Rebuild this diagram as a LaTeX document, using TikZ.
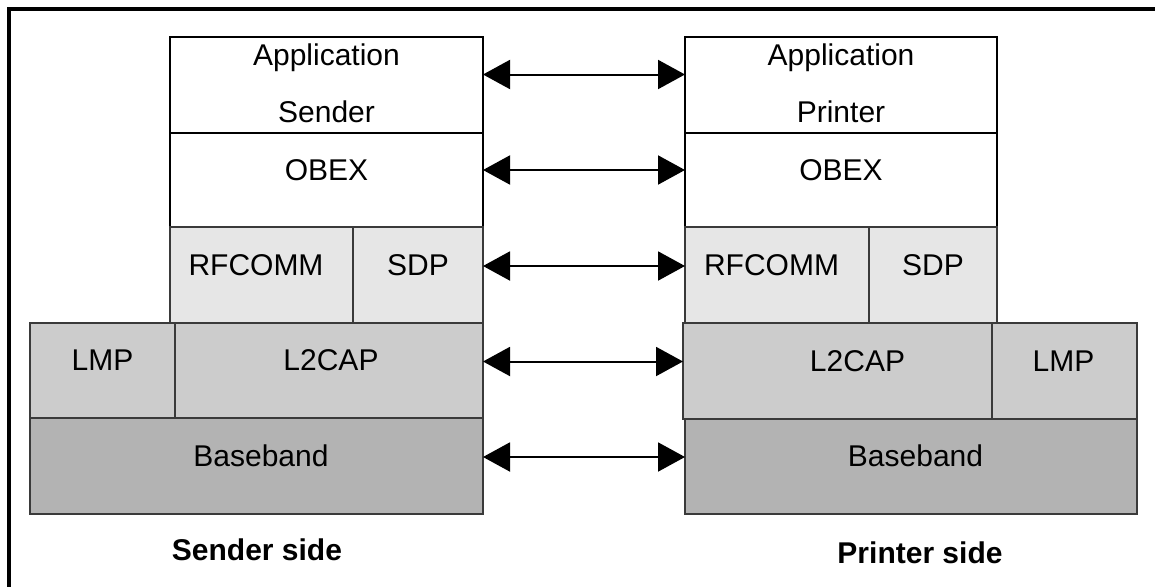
\documentclass[tikz,border=0pt]{standalone}
\usepackage{fontspec}
\setmainfont{Liberation Sans}
\usetikzlibrary{arrows.meta}
\definecolor{edge}{HTML}{3A3A3A}
\definecolor{fillA}{HTML}{E6E6E6}
\definecolor{fillB}{HTML}{CCCCCC}
\definecolor{fillC}{HTML}{B3B3B3}
\newcommand\cellbox[6]{%
  \node[cellshape, #6, minimum width={#3-#1}, minimum height={#4-#2}] (#5) at ({(#1+#3)/2},{(#2+#4)/2}) {};}
\begin{document}
\begin{tikzpicture}[x=1pt,y=-1pt,
  cellshape/.style={rectangle, draw=edge, line width=1.3pt, inner sep=0pt, outer sep=0pt},
  whitecell/.style={draw=black, fill=white},
  lightcell/.style={fill=fillA},
  midcell/.style={fill=fillB},
  darkcell/.style={fill=fillC},
  lbl/.style={anchor=base, inner sep=0pt, font=\fontsize{30}{36}\selectfont},
  sidelbl/.style={anchor=base, inner sep=0pt, font=\fontsize{30}{36}\selectfont\bfseries},
  biarrow/.style={line width=2pt, {Triangle[length=27pt,width=29pt]}-{Triangle[length=27pt,width=29pt]}},
  frame/.style={line width=3.7pt, line join=miter}
]
\useasboundingbox (0,0) rectangle (1155,586);
\fill[white] (0,0) rectangle (1155,586);
\draw[frame] (1160,9.2) -- (9.2,9.2) -- (9.2,590);

% sender side
\cellbox{170}{37}{483}{133}{appL}{whitecell}
\cellbox{170}{133}{483}{227}{obexL}{whitecell}
\cellbox{170}{227}{353}{323}{rfL}{lightcell}
\cellbox{353}{227}{483}{323}{sdpL}{lightcell}
\cellbox{30}{323}{175}{418}{lmpL}{midcell}
\cellbox{175}{323}{483}{418}{ltwoL}{midcell}
\cellbox{30}{418}{483}{514}{bbL}{darkcell}

% printer side
\cellbox{685}{37}{997}{133}{appR}{whitecell}
\cellbox{685}{133}{997}{227}{obexR}{whitecell}
\cellbox{685}{227}{869}{323}{rfR}{lightcell}
\cellbox{869}{227}{997}{323}{sdpR}{lightcell}
\cellbox{683}{323}{992}{419}{ltwoR}{midcell}
\cellbox{992}{323}{1137}{419}{lmpR}{midcell}
\cellbox{685}{419}{1137}{514}{bbR}{darkcell}

% labels
\node[lbl] (tAppL) at (326.5,65) {Application};
\node[lbl] (tSendL) at (326.5,122.7) {Sender};
\node[lbl] (tObexL) at (326.5,180) {OBEX};
\node[lbl] (tRfL) at (256,275) {RFCOMM};
\node[lbl] (tSdpL) at (418,275) {SDP};
\node[lbl] (tLmpL) at (102.5,370.5) {LMP};
\node[lbl] (tLtwoL) at (331,370.5) {L2CAP};
\node[lbl] (tBbL) at (261,466.5) {Baseband};

\node[lbl] (tAppR) at (841,65) {Application};
\node[lbl] (tPrnR) at (841,122.7) {Printer};
\node[lbl] (tObexR) at (841,180) {OBEX};
\node[lbl] (tRfR) at (771.5,275) {RFCOMM};
\node[lbl] (tSdpR) at (933,275) {SDP};
\node[lbl] (tLtwoR) at (857.5,371) {L2CAP};
\node[lbl] (tLmpR) at (1063.5,371) {LMP};
\node[lbl] (tBbR) at (915.5,466.5) {Baseband};

\node[sidelbl] (sideL) at (257,560) {Sender side};
\node[sidelbl] (sideR) at (920,563) {Printer side};

% connectors
\draw[biarrow] ([yshift=10.5pt]appL.east) -- ([yshift=10.5pt]appL.east -| appR.west);
\draw[biarrow] ([yshift=10pt]obexL.east) -- ([yshift=10pt]obexL.east -| obexR.west);
\draw[biarrow] ([yshift=9pt]sdpL.east) -- ([yshift=9pt]sdpL.east -| rfR.west);
\draw[biarrow] ([yshift=9pt]ltwoL.east) -- ([yshift=9pt]ltwoL.east -| ltwoR.west);
\draw[biarrow] ([yshift=9pt]bbL.east) -- ([yshift=9pt]bbL.east -| bbR.west);
\end{tikzpicture}
\end{document}
